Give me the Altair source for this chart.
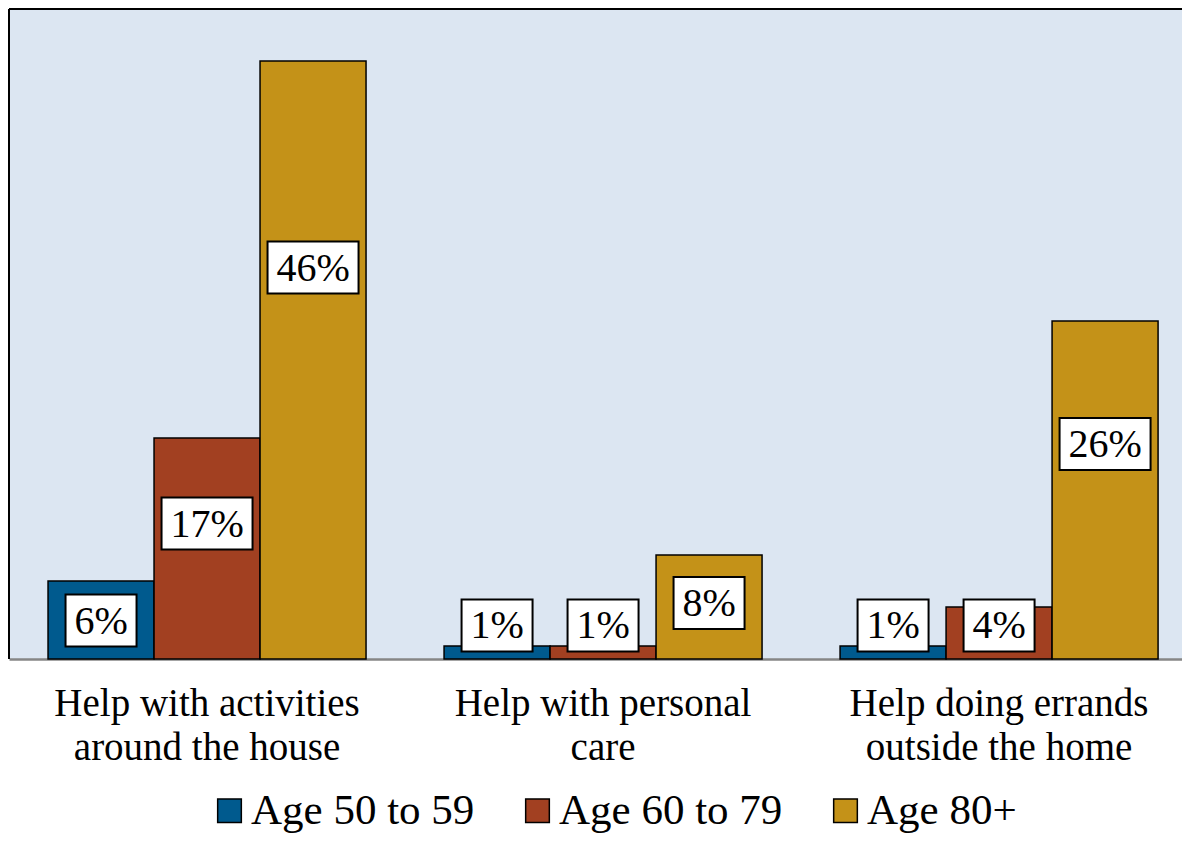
import altair as alt
import pandas as pd

categories = ["Help with activities|around the house", "Help with personal|care", "Help doing errands|outside the home"]
ages = ["Age 50 to 59", "Age 60 to 79", "Age 80+"]
age_50_59 = [6, 1, 1]
age_60_79 = [17, 1, 4]
age_80_plus = [46, 8, 26]
colors = ["#005A8E", "#A24021", "#C49218"]

rows = []
for age, vals in zip(ages, [age_50_59, age_60_79, age_80_plus]):
    for cat, v in zip(categories, vals):
        rows.append({"category": cat, "age": age, "value": v})
df = pd.DataFrame(rows)

FONT = "Liberation Serif"
W, H = 1173, 650

x = alt.X("category:N", sort=categories,
          scale=alt.Scale(paddingInner=0.197, paddingOuter=0.0795, align=0.62),
          axis=alt.Axis(title=None, labelExpr="split(datum.label, '|')", labelFont=FONT,
                        labelFontSize=39, labelColor="black", labelLineHeight=44,
                        labelPadding=25, labelLimit=500, ticks=False, labelAngle=0,
                        domainColor="#868686", domainWidth=2.5))
xo = alt.XOffset("age:N", sort=ages, scale=alt.Scale(paddingInner=0, paddingOuter=0))
yscale = alt.Scale(domain=[0, 50], nice=False, zero=True)

bars = alt.Chart(df).mark_bar(stroke="black", strokeWidth=1.5).encode(
    x=x, xOffset=xo,
    y=alt.Y("value:Q", scale=yscale, axis=None),
    color=alt.Color("age:N", sort=ages, scale=alt.Scale(domain=ages, range=colors),
                    legend=alt.Legend(title=None, orient="none", direction="horizontal",
                                      legendX=199, legendY=780, labelFont=FONT,
                                      labelFontSize=43, labelColor="black",
                                      symbolType="square", symbolSize=560,
                                      symbolStrokeColor="black", symbolStrokeWidth=1.5,
                                      labelOffset=0, columnPadding=41, labelLimit=400)),
)

lab = alt.Chart(df).transform_calculate(
    c="max(2.58, 0.679 * datum.value - 1.12)",
    lo="datum.c - 2.0",
    hi="datum.c + 2.0",
    txt="datum.value + '%'",
)

box_wide = lab.transform_filter("datum.value >= 10").mark_bar(
    width=91, fill="white", stroke="black", strokeWidth=2).encode(
    x=x, xOffset=xo, y=alt.Y("lo:Q", scale=yscale, axis=None), y2="hi:Q")
box_narrow = lab.transform_filter("datum.value < 10").mark_bar(
    width=71, fill="white", stroke="black", strokeWidth=2).encode(
    x=x, xOffset=xo, y=alt.Y("lo:Q", scale=yscale, axis=None), y2="hi:Q")
texts = lab.mark_text(font=FONT, fontSize=40, color="black", baseline="middle", dy=1).encode(
    x=x, xOffset=xo, y=alt.Y("c:Q", scale=yscale, axis=None), text="txt:N")

left_border = alt.Chart(df).mark_rule(color="black", strokeWidth=2).encode(
    x=alt.value(0), y=alt.value(0), y2=alt.value(H))
top_border = alt.Chart(df).mark_rule(color="black", strokeWidth=2).encode(
    x=alt.value(0), x2=alt.value(W), y=alt.value(0))

chart = alt.layer(bars, box_wide, box_narrow, texts, left_border, top_border).properties(
    width=W, height=H,
    autosize=alt.AutoSizeParams(type="none"),
    padding={"left": 1, "top": 1, "right": 0, "bottom": 179},
).configure_view(fill="#DCE6F2", stroke=None)

chart.save("out.html", embed_options={"renderer": "svg", "actions": False})
